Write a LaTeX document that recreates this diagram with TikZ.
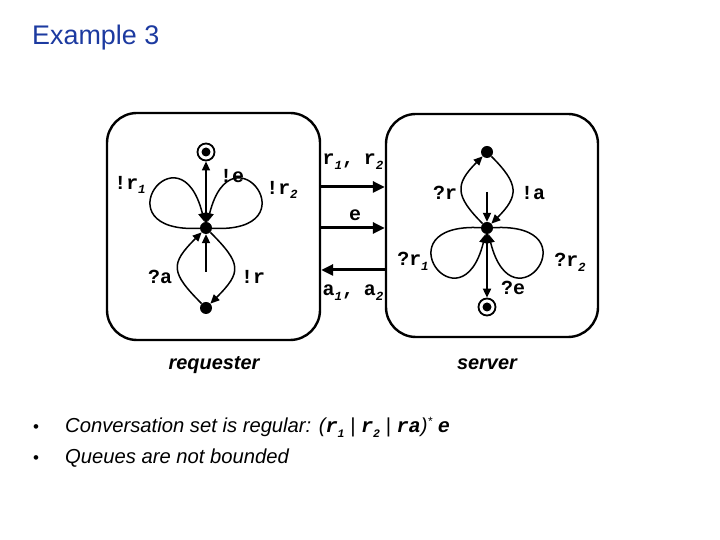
\documentclass[tikz,border=0pt]{standalone}
\usepackage{fontspec}
\setmainfont{Liberation Sans}
\newfontfamily\monofam{Liberation Mono}
\usetikzlibrary{arrows.meta}
\definecolor{titleblue}{RGB}{28,58,160}
\newcommand\lsub[1]{\raisebox{-0.45ex}{\fontsize{12.5}{12.5}\selectfont\itshape #1}}
\newcommand\msub[1]{\raisebox{-0.4ex}{\fontsize{11.5}{11.5}\selectfont #1}}
\begin{document}
\begin{tikzpicture}[x=1bp,y=1bp,
  st/.style={circle,fill=black,inner sep=0pt,minimum size=12bp},
  fin/.style={circle,draw,line width=1.8bp,fill=white,inner sep=0pt,minimum size=17bp,
    path picture={\fill[black] (path picture bounding box.center) circle (4.5bp);}},
  tr/.style={line width=1.5bp,-{Triangle[length=9bp,width=8bp]}},
  thk/.style={line width=2bp,-{Triangle[length=9bp,width=8bp]}},
  chan/.style={line width=3bp,-{Triangle[length=12bp,width=11bp]}},
  lab/.style={font=\monofam\bfseries\fontsize{20}{20}\selectfont,inner sep=0pt},
  box/.style={draw,line width=2.4bp,rounded corners=30bp,inner sep=0pt},
  captxt/.style={font=\bfseries\itshape\fontsize{20}{20}\selectfont,inner sep=0pt,anchor=base}
]
\useasboundingbox (0,0) rectangle (720,540);

% title
\node[anchor=base west,inner sep=0pt,text=titleblue,font=\fontsize{27}{27}\selectfont] (title) at (32,495) {Example 3};

% boxes
\node[box,minimum width=213bp,minimum height=227bp] (L) at (213.5,313.5) {};
\node[box,minimum width=212bp,minimum height=223bp] (R) at (492,314.5) {};

% left machine (requester)
\node[fin] (lf) at (206,388) {};
\node[st] (lc) at (206,312) {};
\node[st] (lb) at (206,232) {};
\coordinate (li) at (206,268);
\draw[thk] (li) -- (lc);
\draw[tr] (lc) -- (lf);
\draw[tr] (lc) to[out=183,in=104,distance=102bp] (lc);
\draw[tr] (lc) to[out=-3,in=76,distance=102bp] (lc);
\draw[tr] (lb) to[out=135,in=225,looseness=1.6] (lc);
\draw[tr] (lc) to[out=-45,in=45,looseness=1.6] (lb);

\node[lab] (l1) at (130,355) {!r\lsub{1}};
\node[lab] (l2) at (232,364) {!e};
\node[lab] (l3) at (282,350) {!r\lsub{2}};
\node[lab] (l4) at (160,263) {?a};
\node[lab] (l5) at (253,263) {!r};

% right machine (server)
\node[st] (rt) at (487,388) {};
\node[st] (rc) at (487,312) {};
\node[fin] (rf) at (487,233) {};
\coordinate (ri) at (487,348);
\draw[thk] (ri) -- (rc);
\draw[thk] (rc) -- (rf);
\draw[tr] (rc) to[out=135,in=225,looseness=1.5] (rt);
\draw[tr] (rt) to[out=-45,in=45,looseness=1.5] (rc);
\draw[tr] (rc) to[out=177,in=256,distance=102bp] (rc);
\draw[tr] (rc) to[out=3,in=284,distance=102bp] (rc);

\node[lab] (r1) at (445,347) {?r};
\node[lab] (r2) at (533,347) {!a};
\node[lab] (r3) at (413,279) {?r\lsub{1}};
\node[lab] (r4) at (570,278) {?r\lsub{2}};
\node[lab] (r5) at (513,252) {?e};

% channels
\draw[chan] (L.east |- 0,353) -- (R.west |- 0,353);
\draw[chan] (L.east |- 0,312) -- (R.west |- 0,312);
\draw[chan] (R.west |- 0,270) -- (L.east |- 0,270);
\node[lab] (c1) at (353,378) {r\lsub{1},\kern-2bp{} r\lsub{2}};
\node[lab] (c2) at (355,325) {e};
\node[lab] (c3) at (353,247) {a\lsub{1},\kern-2bp{} a\lsub{2}};

% captions
\node[captxt] (req) at (214,170) {requester};
\node[captxt] (srv) at (487,170) {server};

% bullets
\node[anchor=base,inner sep=0pt,font=\fontsize{17}{17}\selectfont] (b1) at (36,107) {•};
\node[anchor=base,inner sep=0pt,font=\fontsize{17}{17}\selectfont] (b2) at (36,76) {•};
\node[anchor=base west,inner sep=0pt,font=\itshape\fontsize{20.3}{20.3}\selectfont] (t1) at (65,107)
  {Conversation set is regular: ({\monofam\bfseries r\msub{1}} | {\monofam\bfseries r\msub{2}} | {\monofam\bfseries ra})\raisebox{0.7ex}{\fontsize{12}{12}\selectfont *} {\monofam\bfseries e}};
\node[anchor=base west,inner sep=0pt,font=\itshape\fontsize{20.3}{20.3}\selectfont] (t2) at (65,76) {Queues are not bounded};
\end{tikzpicture}
\end{document}
